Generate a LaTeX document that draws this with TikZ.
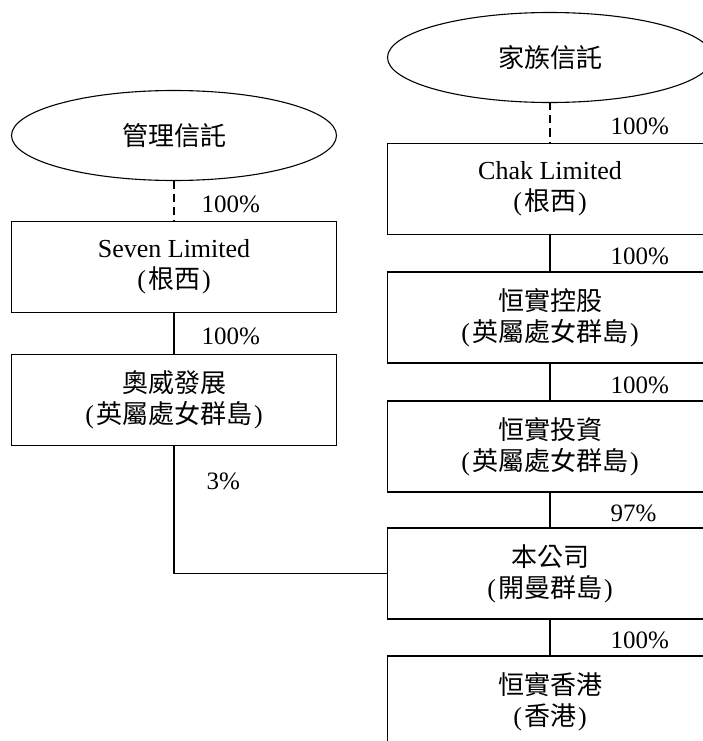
\documentclass[tikz,border=0pt]{standalone}
\usepackage{fontspec}
\setmainfont{Liberation Serif}
\newfontfamily\cjk{Noto Sans CJK TC}
\usepackage{tikz}
\usetikzlibrary{positioning}
\usetikzlibrary{shapes}

\begin{document}
\begin{tikzpicture}
      [trust/.style={ellipse,draw=black,line width=1.1pt,minimum width=325pt,minimum height=90pt,inner sep=0pt,outer sep=0pt,font=\fontsize{26pt}{31pt}\selectfont},
       firm/.style={rectangle,draw=black,line width=1.1pt,minimum width=325pt,minimum height=91pt,inner sep=0pt,outer sep=0pt,align=center,font=\fontsize{26pt}{31pt}\selectfont},
       link/.style={line width=1.1pt},
       dashlink/.style={line width=1.1pt,dash pattern=on 8pt off 5pt},
       pct/.style={anchor=west,inner sep=0pt,xshift=27pt,yshift=-3pt,font=\fontsize{25pt}{30pt}\selectfont},
       pctr/.style={pct,xshift=33pt}]
      \path[use as bounding box,clip] (0pt,0pt) rectangle (703pt,-741pt);
      % place nodes
      \node[trust] (mgmt) at (174pt,-135.5pt) {\cjk 管理信託};
      \node[firm] (seven) [below=41pt of mgmt] {Seven Limited\\(\kern2pt{\cjk 根西}\kern2pt)};
      \node[firm] (aowei) [below=42pt of seven] {{\cjk 奧威發展}\\(\kern2pt{\cjk 英屬處女群島}\kern2pt)};
      \node[trust] (family) at (550pt,-57.5pt) {\cjk 家族信託};
      \node[firm] (chak) [below=41pt of family] {Chak Limited\\(\kern2pt{\cjk 根西}\kern2pt)};
      \node[firm] (holdco) [below=37.5pt of chak] {{\cjk 恒實控股}\\(\kern2pt{\cjk 英屬處女群島}\kern2pt)};
      \node[firm] (invest) [below=38pt of holdco] {{\cjk 恒實投資}\\(\kern2pt{\cjk 英屬處女群島}\kern2pt)};
      \node[firm] (company) [below=36pt of invest] {{\cjk 本公司}\\(\kern2pt{\cjk 開曼群島}\kern2pt)};
      \node[firm] (hk) [below=37pt of company] {{\cjk 恒實香港}\\(\kern2pt{\cjk 香港}\kern2pt)};
      % add edges
      \draw [dashlink] (mgmt) -- node[pct] (p1) {100\%} (seven);
      \draw [link] (seven) -- node[pct] (p2) {100\%} (aowei);
      \draw [link] (aowei) |- node[pct,pos=0.13,xshift=5pt] (p3) {3\%} (company.west);
      \draw [dashlink] (family) -- node[pctr] (p4) {100\%} (chak);
      \draw [link] (chak) -- node[pctr] (p5) {100\%} (holdco);
      \draw [link] (holdco) -- node[pctr] (p6) {100\%} (invest);
      \draw [link] (invest) -- node[pctr] (p7) {97\%} (company);
      \draw [link] (company) -- node[pctr] (p8) {100\%} (hk);
    \end{tikzpicture}
\end{document}
